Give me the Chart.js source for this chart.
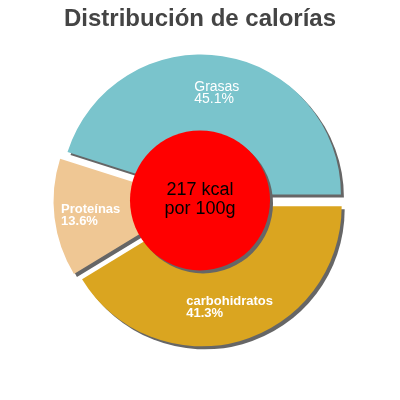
<!DOCTYPE html>
<html>
<head>
<meta charset="utf-8">
<script src="https://cdn.jsdelivr.net/npm/chart.js@4.4.0/dist/chart.umd.min.js"></script>
<style>
  html, body { margin: 0; padding: 0; background: #fff; }
  #wrap { width: 400px; height: 400px; }
</style>
</head>
<body>
<div id="wrap"><canvas id="chart" width="400" height="400"></canvas></div>
<script>
// slices listed clockwise from 3 o'clock
var labels = ["carbohidratos", "Proteínas", "Grasas"];
var percents = [41.3, 13.6, 45.1];
var colors = ["#daa520", "#efc794", "#7ac4cc"];
var energyKcal = 217;
var perAmount = "por 100g";

var FONT = "'Liberation Sans', Arial, sans-serif";
var explode = [6.2, 6.5, 6];   // px each slice is pulled out along its middle
var labelWeights = ["bold", "bold", "normal"];
var labelSizes = [13, 13, 14];

function setShadow(ctx) {
  ctx.shadowColor = "#666666";
  ctx.shadowOffsetX = 3;
  ctx.shadowOffsetY = 3;
  ctx.shadowBlur = 0;
}

var piePlugin = {
  id: "pieExtras",
  beforeDatasetDraw: function (chart, args) {
    var ctx = chart.ctx;
    args.meta.data.forEach(function (arc, i) {
      var mid = (arc.startAngle + arc.endAngle) / 2;
      ctx.save();
      setShadow(ctx);
      ctx.translate(Math.cos(mid) * explode[i], Math.sin(mid) * explode[i]);
      arc.draw(ctx);
      ctx.restore();
    });
    return false;
  },
  afterDatasetsDraw: function (chart) {
    var ctx = chart.ctx;
    var meta = chart.getDatasetMeta(0);
    var first = meta.data[0];
    var cx = first.x, cy = first.y, R = first.outerRadius;

    // red centre disc
    ctx.save();
    setShadow(ctx);
    ctx.fillStyle = "#ff0000";
    ctx.beginPath();
    ctx.arc(cx, cy, R / 2, 0, Math.PI * 2);
    ctx.fill();
    ctx.restore();

    ctx.save();
    ctx.fillStyle = "#000";
    ctx.textAlign = "center";
    ctx.textBaseline = "alphabetic";
    ctx.font = "18px " + FONT;
    ctx.fillText(energyKcal + " kcal", cx, cy - 5);
    ctx.fillText(perAmount, cx, cy + 14);
    ctx.restore();

    // slice labels
    meta.data.forEach(function (arc, i) {
      var mid = (arc.startAngle + arc.endAngle) / 2;
      var d = explode[i] + arc.outerRadius * 0.74;
      var lx = arc.x + Math.cos(mid) * d;
      var ly = arc.y + Math.sin(mid) * d;
      var lines = [labels[i], percents[i].toFixed(1) + "%"];
      ctx.save();
      ctx.fillStyle = "#fff";
      ctx.font = labelWeights[i] + " " + labelSizes[i] + "px " + FONT;
      ctx.textAlign = "left";
      ctx.textBaseline = "alphabetic";
      var w = Math.max(ctx.measureText(lines[0]).width, ctx.measureText(lines[1]).width);
      ctx.fillText(lines[0], lx - w / 2, ly - 1);
      ctx.fillText(lines[1], lx - w / 2, ly + 11);
      ctx.restore();
    });
  }
};

new Chart(document.getElementById("chart"), {
  type: "pie",
  data: {
    labels: labels,
    datasets: [{
      data: percents,
      backgroundColor: colors,
      borderWidth: 0,
      hoverOffset: 0
    }]
  },
  options: {
    responsive: false,
    animation: false,
    events: [],
    rotation: 90,
    radius: 140,
    layout: { padding: { top: 0, bottom: 40, left: 0, right: 0 } },
    plugins: {
      legend: { display: false },
      tooltip: { enabled: false },
      title: {
        display: true,
        text: "Distribución de calorías",
        color: "#444444",
        font: { family: FONT, size: 24, weight: "bold" },
        padding: { top: 5, bottom: 7 }
      }
    }
  },
  plugins: [piePlugin]
});
</script>
</body>
</html>
